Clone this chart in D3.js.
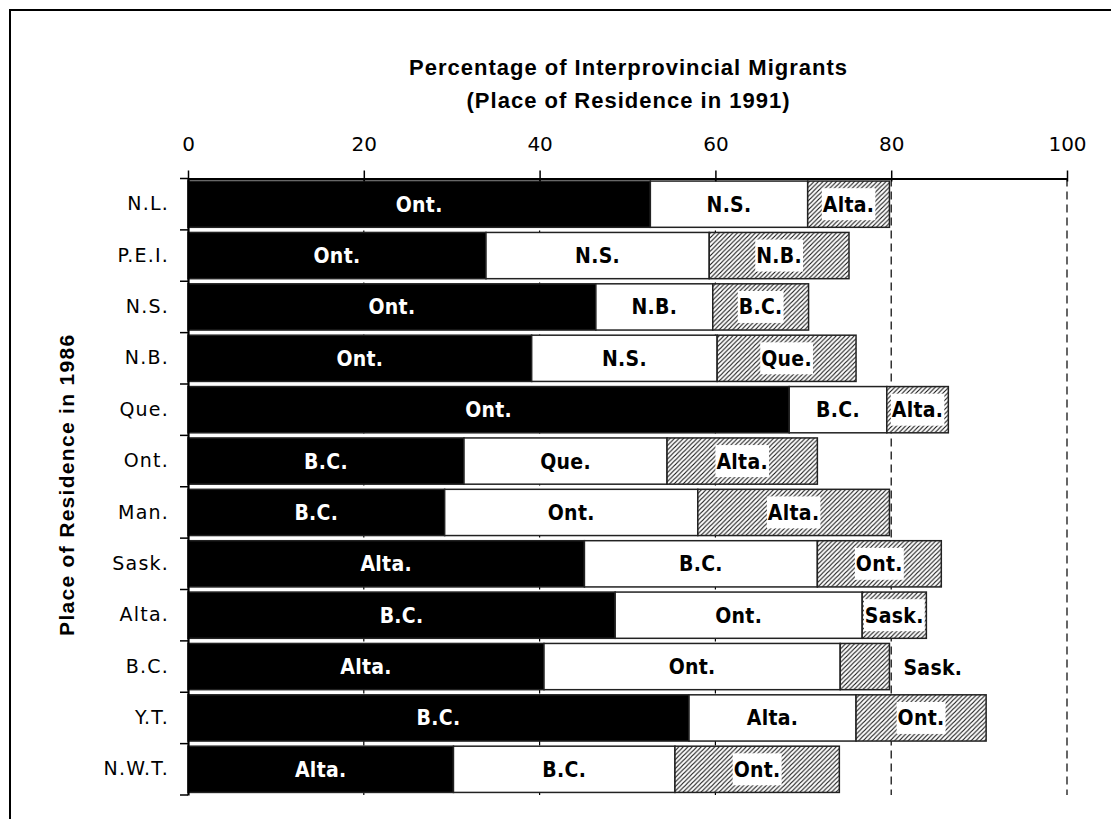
<!DOCTYPE html>
<meta charset="utf-8">
<head>
  <script src="https://d3js.org/d3.v7.min.js"></script>
  <style>
    body { margin: 0; background: #fff; }
    svg { display: block; }
    .cat text { font-family: "DejaVu Sans", Verdana, sans-serif; font-size: 19px; letter-spacing: 1.2px; fill: #000; }
    .xaxis text { font-family: "DejaVu Sans", Verdana, sans-serif; font-size: 20px; fill: #000; }
    .lbl { font-family: "DejaVu Sans Condensed", "DejaVu Sans", sans-serif; font-stretch: condensed; font-weight: bold; font-size: 21px; letter-spacing: 0.3px; }
    .title { font-family: "Liberation Sans", Arial, sans-serif; font-weight: bold; font-size: 22px; letter-spacing: 1px; }
  </style>
</head>
<body>
<svg id="chart"></svg>
<script>
  // place of residence in 1986 (rows)
  var categories = ["N.L.", "P.E.I.", "N.S.", "N.B.", "Que.", "Ont.", "Man.", "Sask.", "Alta.", "B.C.", "Y.T.", "N.W.T."]
  // share of migrants going to 1st, 2nd, 3rd destination (%)
  var firstVals  = [52.6, 33.9, 46.4, 39.1, 68.4, 31.4, 29.2, 45.1, 48.6, 40.5, 57.0, 30.2]
  var secondVals = [17.9, 25.4, 13.3, 21.1, 11.1, 23.1, 28.8, 26.5, 28.1, 33.7, 19.0, 25.2]
  var thirdVals  = [9.3, 15.9, 10.9, 15.8, 7.0, 17.1, 21.8, 14.1, 7.3, 5.6, 14.8, 18.7]
  // destination names
  var firstDest  = ["Ont.", "Ont.", "Ont.", "Ont.", "Ont.", "B.C.", "B.C.", "Alta.", "B.C.", "Alta.", "B.C.", "Alta."]
  var secondDest = ["N.S.", "N.S.", "N.B.", "N.S.", "B.C.", "Que.", "Ont.", "B.C.", "Ont.", "Ont.", "Alta.", "B.C."]
  var thirdDest  = ["Alta.", "N.B.", "B.C.", "Que.", "Alta.", "Alta.", "Alta.", "Ont.", "Sask.", "Sask.", "Ont.", "Ont."]
  var xTicks = [0, 20, 40, 60, 80, 100]

  var W = 1111, H = 819
  var svg = d3.select("#chart").attr("width", W).attr("height", H)

  // frame
  svg.append("rect")
    .attr("x", 10).attr("y", 10).attr("width", 1130).attr("height", 850)
    .attr("fill", "none").attr("stroke", "#000").attr("stroke-width", 2)

  // hatch pattern
  var pat = svg.append("defs").append("pattern")
    .attr("id", "hatch").attr("patternUnits", "userSpaceOnUse")
    .attr("width", 4.5).attr("height", 4.5)
  pat.append("rect").attr("width", 4.5).attr("height", 4.5).attr("fill", "#fff")
  pat.append("path")
    .attr("d", "M-1,1 l2,-2 M0,4.5 l4.5,-4.5 M3.5,5.5 l2,-2")
    .attr("stroke", "#111").attr("stroke-width", 1.1)

  var x = d3.scaleLinear().domain([0, 100]).range([188, 1067])
  var y = d3.scaleBand().domain(categories).range([178.5, 795])
    .paddingInner(0.1).paddingOuter(0.05)

  // build rows from the arrays
  var rows = categories.map(function(c, i) {
    var v = [firstVals[i], secondVals[i], thirdVals[i]]
    var n = [firstDest[i], secondDest[i], thirdDest[i]]
    var acc = 0
    return { cat: c, segs: v.map(function(d, k) {
      var s = { k: k, x0: acc, x1: acc + d, name: n[k] }
      acc += d
      return s
    }) }
  })

  // gridlines (behind bars)
  svg.append("g").selectAll("line")
    .data(xTicks.slice(1))
    .enter().append("line")
    .attr("x1", function(d) { return x(d) }).attr("x2", function(d) { return x(d) })
    .attr("y1", y.range()[0]).attr("y2", y.range()[1])
    .attr("stroke", "#000").attr("stroke-width", 1.2)
    .attr("stroke-dasharray", "8,5")

  var fills = ["#000", "#fff", "url(#hatch)"]

  var rowG = svg.append("g").selectAll("g")
    .data(rows).enter().append("g")
    .attr("transform", function(d) { return "translate(0," + y(d.cat) + ")" })

  rowG.selectAll("rect.seg")
    .data(function(d) { return d.segs })
    .enter().append("rect")
    .attr("class", "seg")
    .attr("x", function(d) { return x(d.x0) })
    .attr("width", function(d) { return x(d.x1) - x(d.x0) })
    .attr("y", 0).attr("height", y.bandwidth())
    .attr("fill", function(d) { return fills[d.k] })
    .attr("stroke", "#222").attr("stroke-width", 1.5)

  // segment labels
  var bh = y.bandwidth()
  rowG.each(function(r) {
    var g = d3.select(this)
    r.segs.forEach(function(s) {
      var t = g.append("text").attr("class", "lbl")
        .attr("y", bh / 2).attr("dy", "0.36em")
        .attr("text-anchor", "middle")
        .attr("fill", s.k == 0 ? "#fff" : "#000")
        .text(s.name)
      var tw = t.node().getComputedTextLength()
      var segW = x(s.x1) - x(s.x0)
      var cx = (x(s.x0) + x(s.x1)) / 2
      if (s.k == 2 && segW < tw) {
        // too narrow: put label outside the bar
        t.attr("text-anchor", "start").attr("x", x(s.x1) + 14).attr("dy", "0.42em")
      } else {
        t.attr("x", cx)
        if (s.k == 2) {
          g.insert("rect", function() { return t.node() })
            .attr("x", cx - tw / 2 - 1).attr("width", tw + 2)
            .attr("y", bh / 2 - 16).attr("height", 32)
            .attr("fill", "#fff")
        }
      }
    })
  })

  // top axis
  var xAxis = d3.axisTop(x).tickValues(xTicks).tickSize(8).tickSizeOuter(0).tickPadding(20)
  var xg = svg.append("g").attr("class", "xaxis")
    .attr("transform", "translate(0," + y.range()[0] + ")")
    .call(xAxis)
  xg.select(".domain").attr("stroke", "#000").attr("stroke-width", 2.2)
  xg.selectAll(".tick line").attr("y1", 3).attr("stroke-width", 1.5)

  // left axis with category labels
  var yAxis = d3.axisLeft(y).tickSize(0).tickSizeOuter(0).tickPadding(19)
  var yg = svg.append("g").attr("class", "cat")
    .attr("transform", "translate(" + x(0) + ",0)")
    .call(yAxis)
  yg.select(".domain").attr("stroke", "#000").attr("stroke-width", 2.2)

  // ticks at band boundaries
  var bounds = d3.range(categories.length + 1).map(function(i) { return y.range()[0] + i * y.step() })
  svg.append("g").selectAll("line")
    .data(bounds).enter().append("line")
    .attr("x1", x(0) - 8).attr("x2", x(0))
    .attr("y1", function(d) { return d }).attr("y2", function(d) { return d })
    .attr("stroke", "#000").attr("stroke-width", 1.5)

  // titles
  var tx = (x(0) + x(100)) / 2 + 1
  svg.append("text").attr("class", "title").attr("x", tx).attr("y", 75)
    .attr("text-anchor", "middle").text("Percentage of Interprovincial Migrants")
  svg.append("text").attr("class", "title").attr("x", tx).attr("y", 108)
    .attr("text-anchor", "middle").text("(Place of Residence in 1991)")
  svg.append("text").attr("class", "title")
    .attr("transform", "translate(74," + ((y.range()[0] + y.range()[1]) / 2 - 2) + ") rotate(-90)")
    .attr("text-anchor", "middle").style("font-size", "21px").style("letter-spacing", "1.3px")
    .text("Place of Residence in 1986")
</script>
</body>
